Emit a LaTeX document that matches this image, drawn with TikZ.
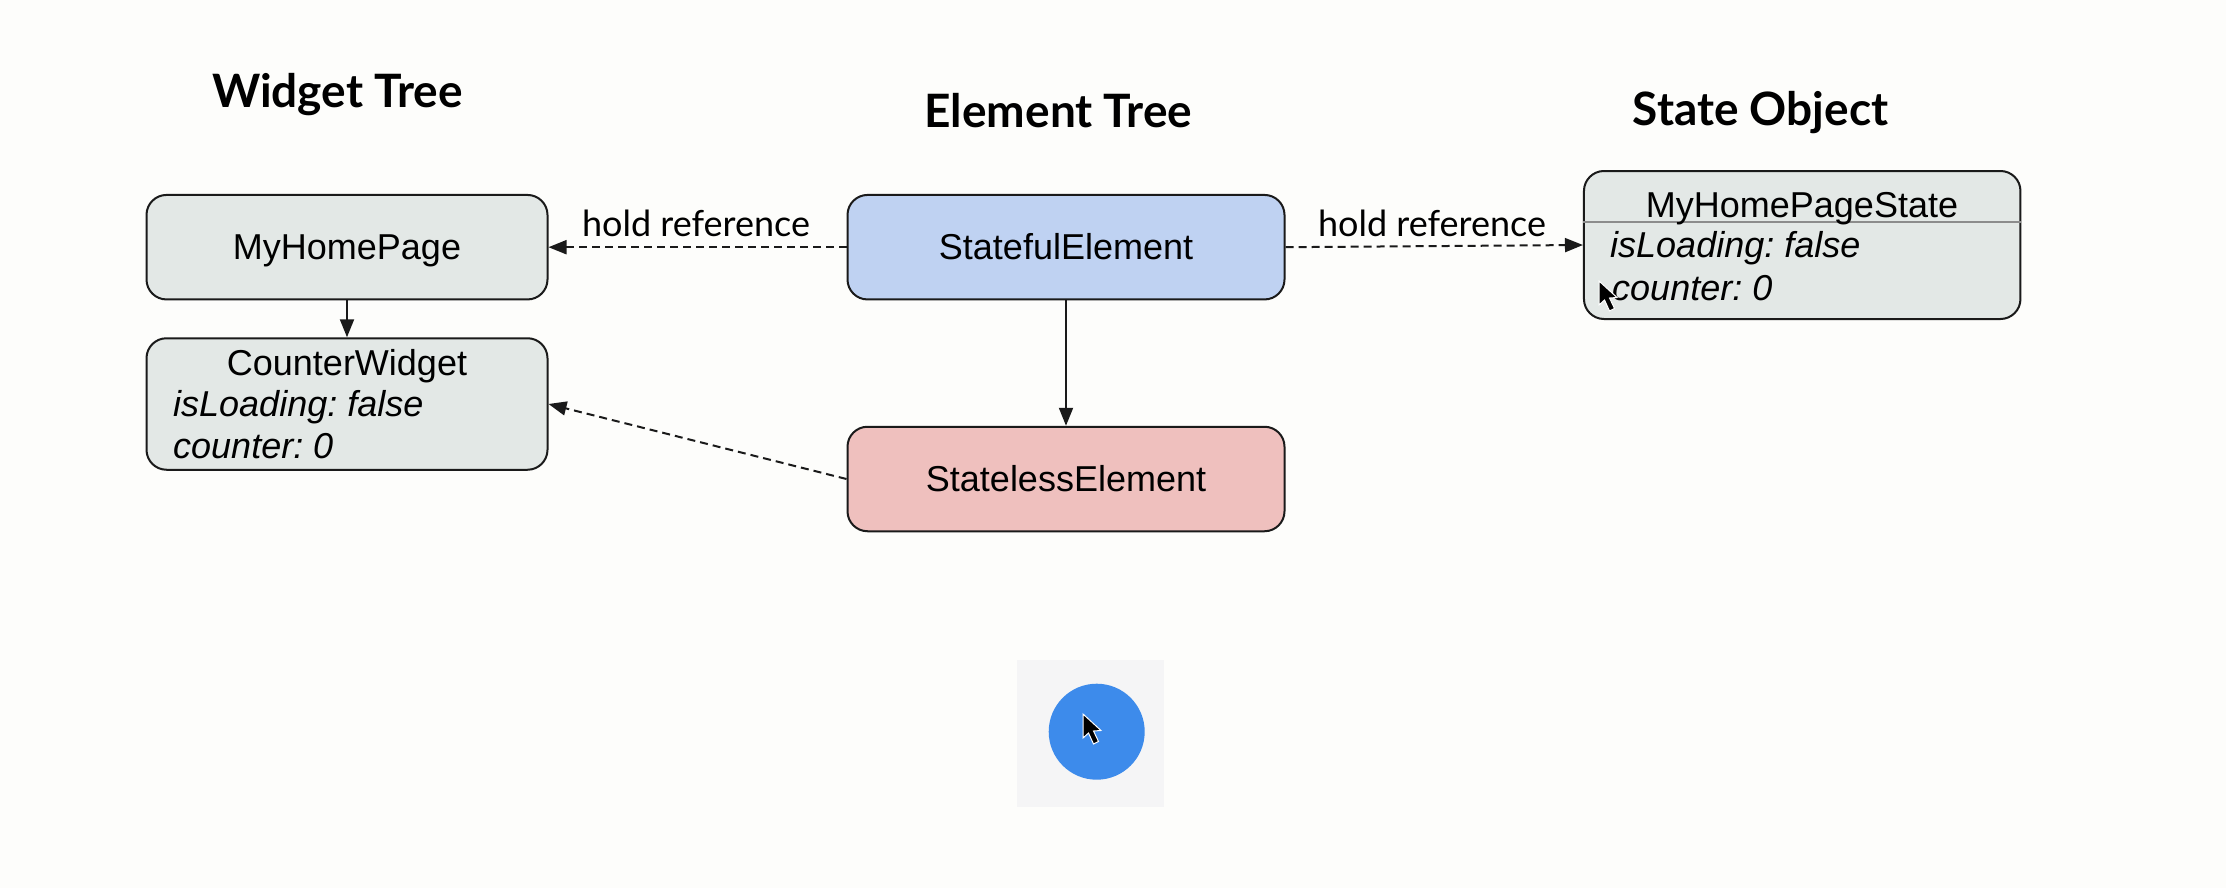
\documentclass[tikz,border=0pt]{standalone}
\usepackage{fontspec}
\setmainfont{Liberation Sans}
\newfontfamily\latofont{Lato}
\usetikzlibrary{arrows.meta}
\definecolor{pagebg}{HTML}{FDFDFB}
\definecolor{greybox}{HTML}{E3E8E6}
\definecolor{bluebox}{HTML}{BFD2F2}
\definecolor{redbox}{HTML}{EFC0BE}
\definecolor{linecol}{HTML}{1A1A1A}
\definecolor{fabblue}{HTML}{3D8BEB}
\definecolor{halo}{HTML}{F5F5F6}
\frenchspacing
\tikzset{
  x=1pt,y=-1pt,
  box/.style={draw=linecol,line width=2pt,rounded corners=20pt,inner sep=0pt,
    text height=25pt,text depth=0.4pt,
    minimum width=401pt,minimum height=104.5pt,font=\fontsize{36}{36}\selectfont},
  boxlabel/.style={inner sep=0pt,anchor=base,font=\fontsize{36}{36}\selectfont},
  attr/.style={inner sep=0pt,anchor=base west,font=\fontsize{36}{36}\selectfont\itshape},
  heading/.style={inner sep=0pt,anchor=base,font=\latofont\bfseries\fontsize{46}{46}\selectfont},
  linklabel/.style={inner sep=0pt,anchor=base,font=\latofont\fontsize{36}{36}\selectfont},
  solidlink/.style={draw=linecol,line width=2pt,-{Triangle[length=18pt,width=14pt]}},
  dashlink/.style={draw=linecol,line width=2pt,dash pattern=on 8pt off 5pt,-{Triangle[length=18pt,width=14pt]}},
  cursorshape/.style={fill=black,draw=white,line width=1pt,line join=miter},
}
\begin{document}
\begin{tikzpicture}
\path[use as bounding box,fill=pagebg] (0,0) rectangle (2226,888);

\node[heading] (t1) at (337.5,108) {Widget Tree};
\node[heading] (t2) at (1058.5,128) {Element Tree};
\node[heading] (t3) at (1760.5,125) {State Object};

\node[box,fill=greybox] (home) at (347,247.2) {MyHomePage};
\node[box,fill=greybox,minimum height=131.5pt] (counter) at (347,404) {};
\node[box,fill=bluebox,minimum width=437pt] (stateful) at (1066,247.2) {StatefulElement};
\node[box,fill=redbox,minimum width=437pt] (stateless) at (1066,479) {StatelessElement};
\node[box,fill=greybox,minimum width=436.5pt,minimum height=148pt] (state) at (1802.2,245) {};

\node[boxlabel] (counterT) at (347,375) {CounterWidget};
\node[attr] (counterA) at (173,416) {isLoading: false};
\node[attr] (counterB) at (173,458) {counter: 0};

\coordinate (divL) at (state.west |- 0,221.7);
\coordinate (divR) at (state.east |- 0,221.7);
\draw[draw=black!45,line width=2pt] (divL) -- (divR);
\node[boxlabel] (stateT) at (1802,217) {MyHomePageState};
\node[attr] (stateA) at (1610,257) {isLoading: false};
\node[attr] (stateB) at (1612,300) {counter: 0};

\draw[solidlink] (home) -- (counter);
\draw[solidlink] (stateful) -- (stateless);
\draw[dashlink] (stateful) -- (home);
\draw[dashlink] (stateful.east) -- (state.west);
\draw[dashlink] (stateless.west) -- (counter.east);

\node[linklabel] (lab1) at (696,236) {hold reference};
\node[linklabel] (lab2) at (1432,236) {hold reference};

\node[fill=halo,inner sep=0pt,minimum width=147pt,minimum height=147pt] (halo) at (1090,733.5) {};
\node[circle,fill=fabblue,inner sep=0pt,minimum size=96pt] (fab) at (1096.7,731.7) {};

\draw[cursorshape] (1599,281) -- ++(0,24) -- ++(5.5,-5) -- ++(5,11) -- ++(5,-2.5) -- ++(-5,-10.5) -- ++(7.5,-0.5) -- cycle;
\draw[cursorshape] (1083,714) -- ++(0,24) -- ++(5.5,-5) -- ++(5,11) -- ++(5,-2.5) -- ++(-5,-10.5) -- ++(7.5,-0.5) -- cycle;
\end{tikzpicture}
\end{document}
